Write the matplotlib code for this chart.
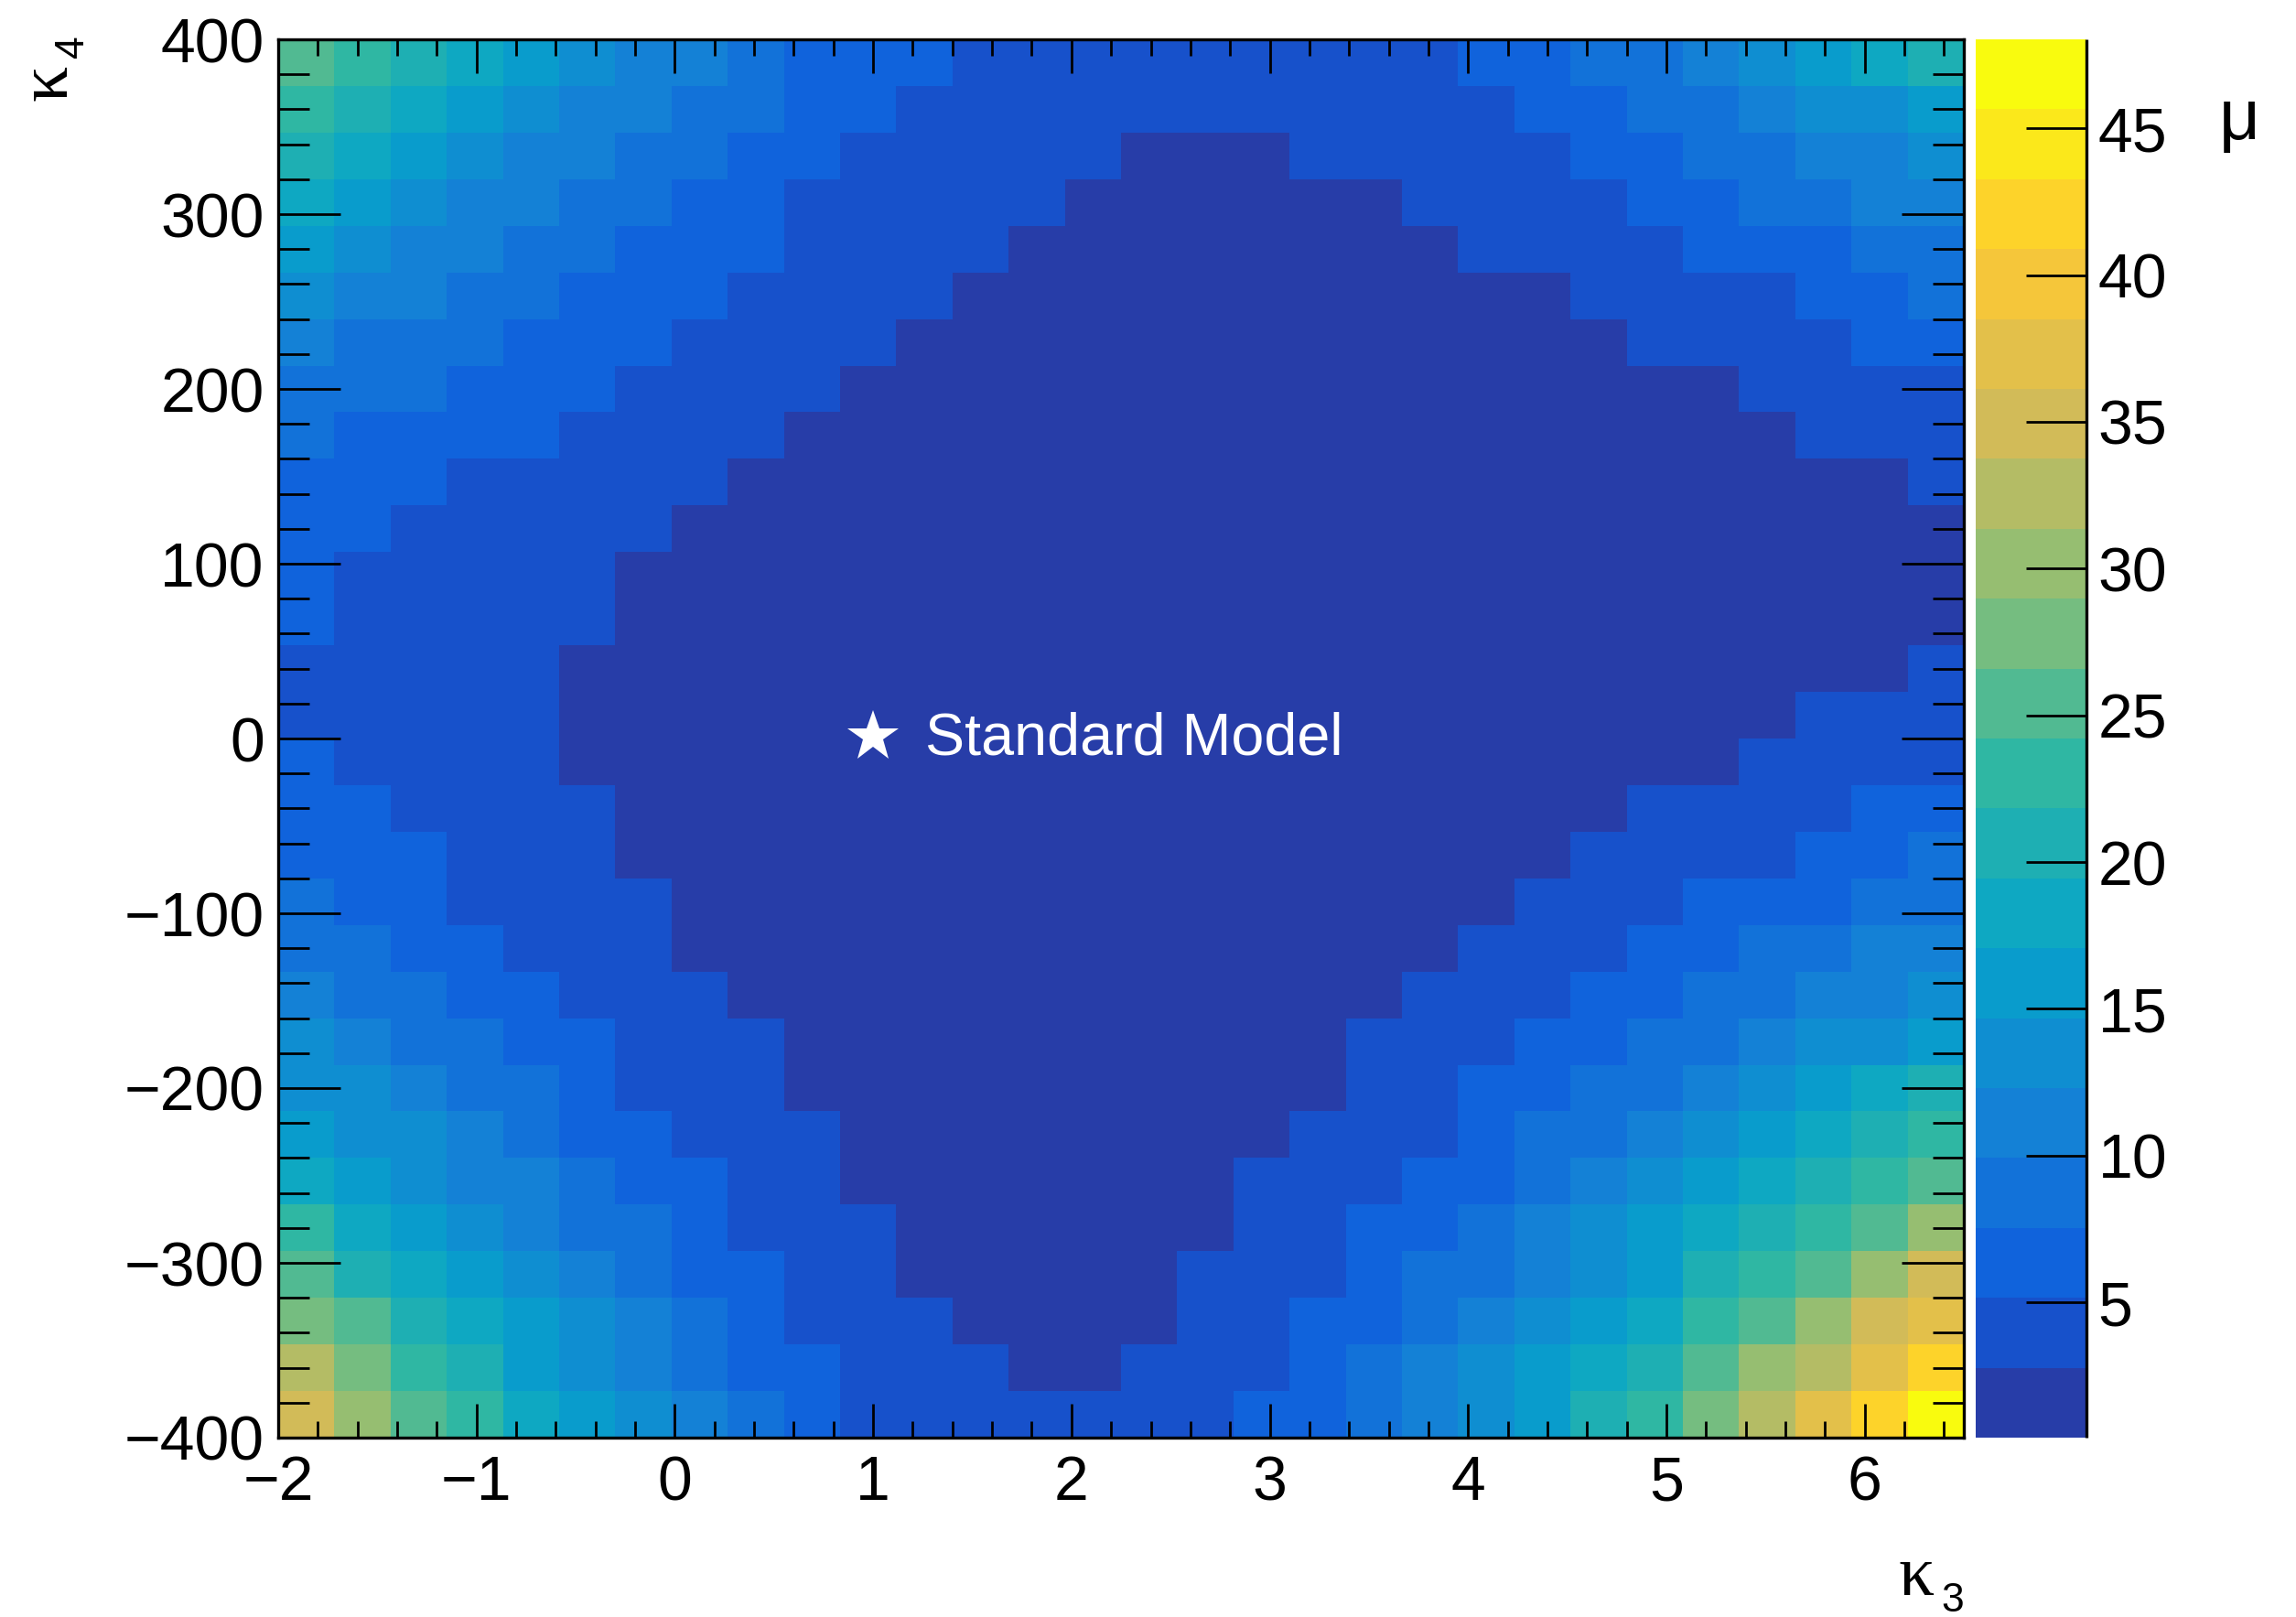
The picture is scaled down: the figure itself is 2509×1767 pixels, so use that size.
import numpy as np
import matplotlib
matplotlib.use("Agg")
import matplotlib.pyplot as plt
from matplotlib.colors import LinearSegmentedColormap, ListedColormap, BoundaryNorm
from matplotlib.ticker import MultipleLocator

# ---------------- data ----------------
# bin edges of the 30 x 30 histogram
KAPPA3_MIN, KAPPA3_MAX, N_KAPPA3 = -2.0, 6.5, 30
KAPPA4_MIN, KAPPA4_MAX, N_KAPPA4 = -400.0, 400.0, 30

# z (mu) range of the colour scale and number of contour bands
Z_MIN, Z_MAX, N_BANDS = 0.39, 48.03, 20

# mu value representing each colour band (band centres)
MU_BAND_VALUES = [1.6, 4.0, 6.3, 8.7, 11.1, 13.5, 15.9, 18.3, 20.6, 23.0,
                  25.4, 27.8, 30.2, 32.5, 34.9, 37.3, 39.7, 42.1, 44.5, 47.9]

# colour band of every cell, one string per kappa4 row, from kappa4 = +400 (top)
# down to kappa4 = -400 (bottom); characters 0-9,a-j = band 0..19, left -> right in kappa3
MU_BAND_ROWS = [
    "a98765443222111111111223345678",
    "987654433221111111111122334556",
    "876544332211111000111112233445",
    "765443322111110000001111223344",
    "654433222111100000000111122233",
    "544332221111000000000001111223",
    "433322211110000000000000111122",
    "333222111100000000000000001111",
    "322221111000000000000000000111",
    "222111110000000000000000000001",
    "221111100000000000000000000000",
    "211111000000000000000000000000",
    "211111000000000000000000000000",
    "111110000000000000000000000001",
    "111110000000000000000000000111",
    "211110000000000000000000001111",
    "221111000000000000000000111122",
    "222111000000000000000001111223",
    "322111100000000000000011122233",
    "332211100000000000000111223344",
    "433221110000000000001112233445",
    "543322111000000000011122334556",
    "554332111000000000011223345678",
    "655432211100000000111233456789",
    "76544322110000000111223456789a",
    "9765433211100000011223456789ac",
    "a87654322110000011123345689ace",
    "ba876543211100001122345679acef",
    "db98654322111001112345678acdfh",
    "eca9765432111111122345689bdfhj",
]

SM_POINT = (1.0, 1.0)
SM_LABEL = "Standard Model"
CBAR_TICKS = [5, 10, 15, 20, 25, 30, 35, 40, 45]

# ---------------- build the grid ----------------
kappa3_edges = np.linspace(KAPPA3_MIN, KAPPA3_MAX, N_KAPPA3 + 1)
kappa4_edges = np.linspace(KAPPA4_MIN, KAPPA4_MAX, N_KAPPA4 + 1)
mu = np.array([[MU_BAND_VALUES[int(ch, 36)] for ch in row] for row in MU_BAND_ROWS])
mu = mu[::-1]  # bottom row first

# ROOT kBird palette
bird_stops = [0.0, 0.125, 0.25, 0.375, 0.5, 0.625, 0.75, 0.875, 1.0]
bird_r = [0.2082, 0.0592, 0.0780, 0.0232, 0.1802, 0.5301, 0.8186, 0.9956, 0.9764]
bird_g = [0.1664, 0.3599, 0.5041, 0.6419, 0.7178, 0.7492, 0.7328, 0.7862, 0.9832]
bird_b = [0.5293, 0.8684, 0.8385, 0.7914, 0.6425, 0.4662, 0.3499, 0.1968, 0.0539]
bird = LinearSegmentedColormap.from_list(
    "kBird", [(s, (r, g, b)) for s, r, g, b in zip(bird_stops, bird_r, bird_g, bird_b)])
band_cmap = ListedColormap([bird((i + 1) / N_BANDS) for i in range(N_BANDS)])
levels = np.linspace(Z_MIN, Z_MAX, N_BANDS + 1)
norm = BoundaryNorm(levels, N_BANDS)

# ---------------- figure ----------------
plt.rcParams["font.family"] = ["Liberation Sans", "DejaVu Sans"]

W, H = 2509, 1767
fig = plt.figure(figsize=(W / 100, H / 100), dpi=100)
ax_l, ax_r, ax_t, ax_b = 304, 2146, 43, 1571
ax = fig.add_axes([ax_l / W, 1 - ax_b / H, (ax_r - ax_l) / W, (ax_b - ax_t) / H])

mesh = ax.pcolormesh(kappa3_edges, kappa4_edges, mu, cmap=band_cmap, norm=norm,
                     shading="flat", edgecolors="none", antialiased=False)
ax.set_xlim(KAPPA3_MIN, KAPPA3_MAX)
ax.set_ylim(KAPPA4_MIN, KAPPA4_MAX)

ax.xaxis.set_major_locator(MultipleLocator(1))
ax.xaxis.set_minor_locator(MultipleLocator(0.2))
ax.yaxis.set_major_locator(MultipleLocator(100))
ax.yaxis.set_minor_locator(MultipleLocator(20))
ax.tick_params(which="both", direction="in", top=True, right=True, width=2, color="black")
ax.xaxis.set_tick_params(which="major", length=26.5, pad=13, labelsize=49)
ax.xaxis.set_tick_params(which="minor", length=13)
ax.yaxis.set_tick_params(which="major", length=49, pad=11, labelsize=49)
ax.yaxis.set_tick_params(which="minor", length=24.5)
for sp in ax.spines.values():
    sp.set_linewidth(2.4)

# Standard Model point
ax.plot([SM_POINT[0]], [SM_POINT[1]], marker="*", ms=42, color="white",
        markeredgewidth=0, linestyle="none", zorder=5)
ax.text(1.262, -9.4, SM_LABEL, color="white", fontsize=46.5, ha="left", va="baseline",
        zorder=5)


def fig_pt(x_px, y_px):
    return x_px / W, 1 - y_px / H


# axis titles: serif kappa with a sans subscript (ROOT #kappa_{n} style)
fig.text(*fig_pt(2075, 1743), "\u03ba", fontsize=56, family="Liberation Serif",
         ha="left", va="baseline")
fig.text(*fig_pt(2121, 1761), "3", fontsize=32, ha="left", va="baseline")
fig.text(*fig_pt(73, 110), "\u03ba", fontsize=56, family="Liberation Serif",
         ha="left", va="baseline", rotation=90, rotation_mode="anchor")
fig.text(*fig_pt(91, 63), "4", fontsize=32, ha="left", va="baseline",
         rotation=90, rotation_mode="anchor")

# colour bar
cb_l, cb_r = 2159, 2280
cax = fig.add_axes([cb_l / W, 1 - ax_b / H, (cb_r - cb_l) / W, (ax_b - ax_t) / H])
cbar = fig.colorbar(mesh, cax=cax, ticks=CBAR_TICKS)
cbar.outline.set_visible(False)
cax.yaxis.set_ticks_position("right")
cax.tick_params(which="major", direction="in", length=47.5, width=2, pad=9, labelsize=49)
cax.minorticks_off()
cax.plot([1, 1], [0, 1], transform=cax.transAxes, color="black", lw=2.4,
         clip_on=False, solid_capstyle="butt")
fig.text(*fig_pt(2447, 152), "\u03bc", fontsize=56, ha="center", va="baseline")

fig.savefig("out.png", dpi=100)
